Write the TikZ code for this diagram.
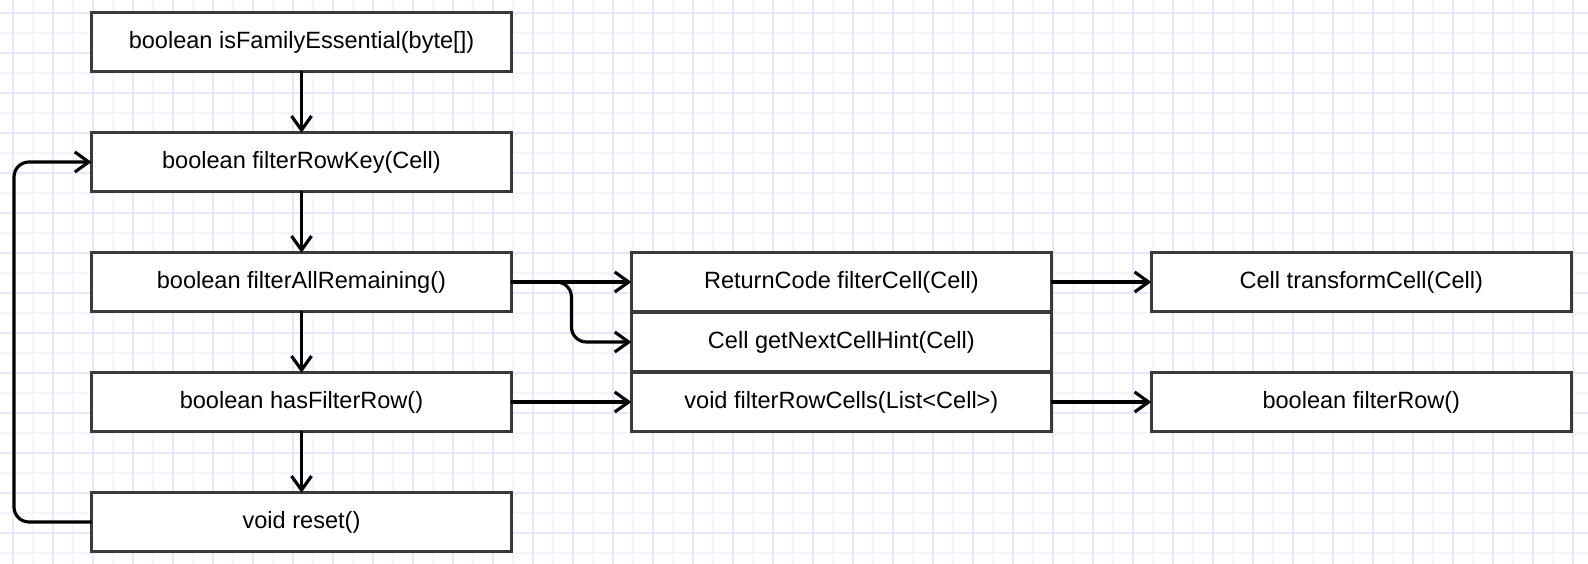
\documentclass[tikz,border=0pt]{standalone}
\usepackage{fontspec}
\setmainfont{Liberation Sans}
\usepackage{xcolor}
\usepackage{tikz}
\usetikzlibrary{positioning,calc,arrows.meta}

\definecolor{gridminor}{RGB}{244,244,255}
\definecolor{gridmajor}{RGB}{231,231,252}
\definecolor{boxline}{RGB}{58,58,58}

\begin{document}
\begin{tikzpicture}[x=0.02cm,y=-0.02cm,
    method/.style={draw=boxline, line width=1.9pt, fill=white, outer sep=0pt,
        minimum width=8.4cm, minimum height=1.17cm, inner sep=0pt,
        font=\fontsize{13.4}{16}\selectfont},
    flow/.style={line width=1.8pt, -{Straight Barb[length=2.8mm,width=4mm]}}]
    \useasboundingbox (0,0) rectangle (1588,564);

    % grid
    \foreach \gx in {33,73,...,1553}
        \draw[gridminor, line width=1pt] (\gx,0) -- (\gx,564);
    \foreach \gy in {33,73,...,553}
        \draw[gridminor, line width=1pt] (0,\gy) -- (1588,\gy);
    \foreach \gx in {13,53,...,1573}
        \draw[gridmajor, line width=1pt] (\gx,0) -- (\gx,564);
    \foreach \gy in {13,53,...,533}
        \draw[gridmajor, line width=1pt] (0,\gy) -- (1588,\gy);

    % filter calls
    \node[method] (essential) at (301.5,42) {boolean isFamilyEssential(byte[])};
    \node[method] (rowkey) at (301.5,162) {boolean filterRowKey(Cell)};
    \node[method] (remaining) at (301.5,282) {boolean filterAllRemaining()};
    \node[method] (hasrow) at (301.5,402) {boolean hasFilterRow()};
    \node[method] (reset) at (301.5,522) {void reset()};

    % per cell
    \node[method, right=2.4cm of remaining] (filtercell) {ReturnCode filterCell(Cell)};
    \node[method, right=2.4cm of hasrow] (rowcells) {void filterRowCells(List<Cell>)};
    \node[method, minimum height=1.2cm] (hint) at ($(filtercell)!.5!(rowcells)$) {Cell getNextCellHint(Cell)};
    \node[method, right=2cm of filtercell] (transform) {Cell transformCell(Cell)};
    \node[method, right=2cm of rowcells] (filterrow) {boolean filterRow()};

    % arrows
    \draw[flow] (essential) -- (rowkey);
    \draw[flow] (rowkey) -- (remaining);
    \draw[flow] (remaining) -- (hasrow);
    \draw[flow] (hasrow) -- (reset);
    \coordinate (back) at (14,162);
    \draw[flow, rounded corners=0.3cm] (reset.west) -| (back) -- (rowkey.west);
    \draw[flow] (remaining.east) -- (filtercell.west);
    \coordinate (split) at ($(remaining.east)!.5!(filtercell.west)$);
    \draw[flow, rounded corners=0.3cm] (remaining.east) -| (split |- hint.west) -- (hint.west);
    \draw[flow] (hasrow.east) -- (rowcells.west);
    \draw[flow] (filtercell.east) -- (transform.west);
    \draw[flow] (rowcells.east) -- (filterrow.west);
\end{tikzpicture}
\end{document}
